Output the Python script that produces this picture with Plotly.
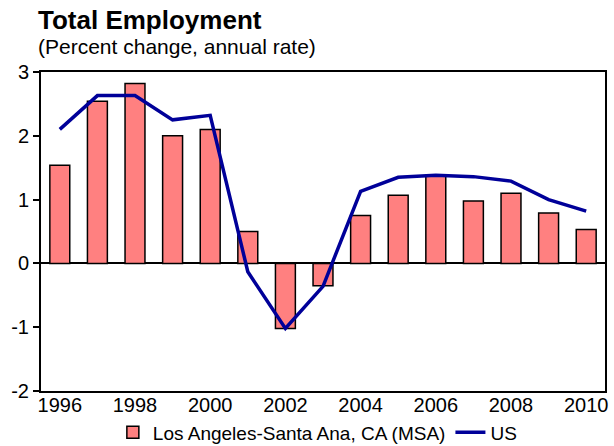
import plotly.graph_objects as go

years = [str(y) for y in range(1996, 2011)]
la_values = [1.54, 2.54, 2.82, 2.0, 2.1, 0.5, -1.02, -0.35, 0.75, 1.07, 1.38, 0.98, 1.1, 0.79, 0.53]
us_values = [2.1, 2.63, 2.63, 2.25, 2.32, -0.13, -1.02, -0.36, 1.13, 1.35, 1.38, 1.36, 1.29, 1.0, 0.82]
y_ticks = [-2, -1, 0, 1, 2, 3]
y_tick_labels = ["-2", "-1", "0", "1", "2", "3"]
x_ticks = [str(y) for y in range(1996, 2011, 2)]

font = "Liberation Sans, Arial, sans-serif"

fig = go.Figure()
fig.add_trace(go.Bar(
    x=years, y=la_values, name="Los Angeles-Santa Ana, CA (MSA)",
    marker=dict(color="#FF8080", line=dict(color="black", width=1.5)),
    width=0.53,
))
fig.add_trace(go.Scatter(
    x=years, y=us_values, name="US", mode="lines",
    line=dict(color="#000099", width=3.5),
))

fig.update_layout(
    width=614, height=446,
    margin=dict(l=41, r=9, t=72, b=55, autoexpand=False),
    paper_bgcolor="white", plot_bgcolor="white",
    font=dict(family=font, color="black"),
    showlegend=True,
    legend=dict(orientation="h", x=0.49, xanchor="center", y=-0.13, yanchor="middle",
                font=dict(size=19, family=font), itemwidth=30, tracegroupgap=0,
                bgcolor="rgba(0,0,0,0)"),
    annotations=[
        dict(text="<b>Total Employment</b>", x=-0.008, y=1.163, xref="paper", yref="paper",
             showarrow=False, font=dict(size=26, family=font), xanchor="left", yanchor="middle"),
        dict(text="(Percent change, annual rate)", x=-0.008, y=1.08, xref="paper", yref="paper",
             showarrow=False, font=dict(size=21, family=font), xanchor="left", yanchor="middle"),
    ],
)

fig.update_xaxes(
    type="category", tickmode="array", tickvals=x_ticks, ticktext=x_ticks,
    tickfont=dict(size=20, family=font), showline=True, linecolor="black", linewidth=2,
    mirror=True, ticks="", showgrid=False, ticklabelstandoff=-5,
)
fig.update_yaxes(
    range=[-2, 3], tickvals=y_ticks, ticktext=y_tick_labels, tickfont=dict(size=20, family=font),
    showline=True, linecolor="black", linewidth=2, mirror=True,
    ticks="outside", ticklen=6, tickwidth=1.5, tickcolor="black",
    showgrid=False, zeroline=True, zerolinecolor="black", zerolinewidth=2,
)

fig.write_html("out.html")
